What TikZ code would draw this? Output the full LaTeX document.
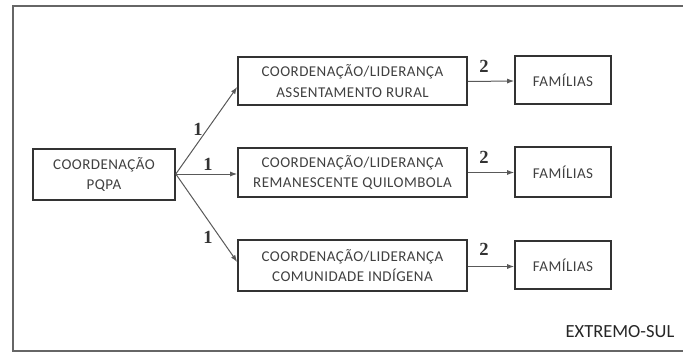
\documentclass[tikz,border=0pt]{standalone}
\usepackage{fontspec}
\setmainfont{Carlito}
\newfontfamily\numfont{Liberation Serif}
\newfontfamily\boxfont[LetterSpace=3]{Carlito}
\usetikzlibrary{arrows.meta}
\begin{document}
\begin{tikzpicture}[x=1pt,y=-1pt,
  boxnode/.style={draw=black!80,line width=1.6pt,inner sep=0pt,align=center,
    font=\boxfont\fontsize{15}{20.5}\selectfont,text=black!75},
  conn/.style={draw=black!65,line width=1pt,-{Latex[length=7pt,width=5pt]}},
  numlab/.style={font=\numfont\bfseries\fontsize{18.5}{18.5}\selectfont,text=black!80,inner sep=0pt}]
\useasboundingbox (0,0) rectangle (683,353);
\draw[black!60,line width=1.4pt] (690,6) -- (13,6) -- (13,351) -- (690,351);
\node[boxnode,minimum width=142pt,minimum height=51pt] (L) at (104,174.5) {COORDENAÇÃO\\PQPA};
\node[boxnode,minimum width=229pt,minimum height=48pt] (T) at (352.5,81) {COORDENAÇÃO/LIDERANÇA\\ASSENTAMENTO RURAL};
\node[boxnode,minimum width=229pt,minimum height=49pt] (M) at (352.5,172.5) {COORDENAÇÃO/LIDERANÇA\\REMANESCENTE QUILOMBOLA};
\node[boxnode,minimum width=229pt,minimum height=51pt] (B) at (352.5,265.5) {COORDENAÇÃO/LIDERANÇA\\COMUNIDADE INDÍGENA};
\node[boxnode,minimum width=96pt,minimum height=48pt] (FT) at (563,80) {FAMÍLIAS};
\node[boxnode,minimum width=96pt,minimum height=50pt] (FM) at (563,172) {FAMÍLIAS};
\node[boxnode,minimum width=96pt,minimum height=48pt] (FB) at (563,265) {FAMÍLIAS};
\coordinate (src) at ([yshift=0.5pt]L.east);
\draw[conn] (src) -- ([yshift=-6pt]T.west);
\draw[conn] (src) -- (M.west |- src);
\draw[conn] (src) -- ([yshift=3.5pt]B.west);
\draw[conn] ([yshift=-0.5pt]T.east) -- (T.east -| FT.west);
\draw[conn] (M.east) -- (M.east -| FM.west);
\draw[conn] ([yshift=-1pt]B.east) -- ([yshift=-1pt]B.east -| FB.west);
\node[numlab] (n1) at (198,129) {1};
\node[numlab] (n2) at (208,164) {1};
\node[numlab] (n3) at (208,237) {1};
\node[numlab] (n4) at (484,66) {2};
\node[numlab] (n5) at (484,157) {2};
\node[numlab] (n6) at (484,249) {2};
\node[font=\fontsize{18.5}{18.5}\selectfont,text=black!85,inner sep=0pt] (ext) at (620,332) {EXTREMO-SUL};
\end{tikzpicture}
\end{document}
